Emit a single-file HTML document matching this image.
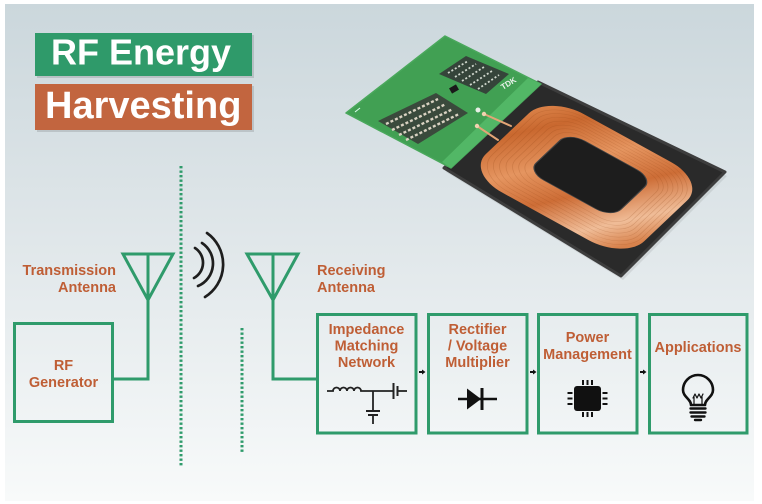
<!DOCTYPE html>
<html>
<head>
<meta charset="utf-8">
<style>
  html,body{margin:0;padding:0;background:#ffffff;}
  svg{display:block;}
  .lbl{font-family:"Liberation Sans",Arial,sans-serif;font-weight:bold;font-size:14.5px;fill:#bf5e35;}
  .ttl{font-family:"Liberation Sans",Arial,sans-serif;font-weight:bold;fill:#ffffff;}
</style>
</head>
<body>
<svg width="762" height="504" viewBox="0 0 762 504" xmlns="http://www.w3.org/2000/svg">
  <defs>
    <linearGradient id="bg" x1="0" y1="0" x2="0" y2="1">
      <stop offset="0" stop-color="#cbd7dc"/>
      <stop offset="0.45" stop-color="#dfe6e9"/>
      <stop offset="1" stop-color="#f8fafa"/>
    </linearGradient>
    <linearGradient id="cu" gradientUnits="userSpaceOnUse" x1="0" y1="10" x2="100" y2="60">
      <stop offset="0" stop-color="#e8965c"/>
      <stop offset="0.22" stop-color="#c9682f"/>
      <stop offset="0.45" stop-color="#e59560"/>
      <stop offset="0.65" stop-color="#cd6d36"/>
      <stop offset="0.86" stop-color="#f0bd98"/>
      <stop offset="1" stop-color="#d8824c"/>
    </linearGradient>
  </defs>

  <!-- background panel -->
  <rect x="0" y="0" width="762" height="504" fill="#ffffff"/>
  <rect x="5" y="4" width="749" height="497" fill="url(#bg)"/>

  <!-- Title -->
  <rect x="37" y="35" width="217" height="43" fill="#000" opacity="0.12"/>
  <rect x="35" y="33" width="217" height="43" fill="#2f9a6a"/>
  <text class="ttl" x="51" y="64.5" font-size="36">RF Energy</text>
  <rect x="37" y="86" width="217" height="46" fill="#000" opacity="0.12"/>
  <rect x="35" y="84" width="217" height="46" fill="#c2653f"/>
  <text class="ttl" x="45" y="118" font-size="38">Harvesting</text>

  <!-- Product photo approximation -->
  <polygon points="540,86 727,176 623,280 446,172" fill="#000" opacity="0.08"/>
  <polygon points="538,82 725,172 621,276 444,168" fill="#2a2a2a" stroke="#3d3d3d" stroke-width="3" stroke-linejoin="round"/>
  <g transform="matrix(1.8,0.99,-0.98,0.93,538,83)">
    <path fill-rule="evenodd" fill="url(#cu)" d="
      M28,4 H76 A20,20 0 0 1 96,24 V68 A20,20 0 0 1 76,88 H28 A20,20 0 0 1 8,68 V24 A20,20 0 0 1 28,4 Z
      M38,22 H67 A9,9 0 0 1 76,31 V55 A9,9 0 0 1 67,64 H38 A9,9 0 0 1 29,55 V31 A9,9 0 0 1 38,22 Z"/>
    <g fill="none" stroke="#8a3e12" stroke-opacity="0.22" stroke-width="0.35">
      <rect x="10.5" y="6.2" width="83.5" height="79" rx="19"/>
      <rect x="13" y="8.4" width="79" height="74" rx="17.5"/>
      <rect x="15.5" y="10.6" width="74.5" height="69" rx="16"/>
      <rect x="18" y="12.8" width="70" height="64" rx="15"/>
      <rect x="20.5" y="15" width="65.5" height="59" rx="14"/>
      <rect x="23" y="17.2" width="61" height="54" rx="12.5"/>
      <rect x="25.5" y="19.4" width="56.5" height="49" rx="11"/>
    </g>
    <rect x="29" y="22" width="47" height="42" rx="9" fill="#1d1d1d" stroke="#444" stroke-width="0.6"/>
  </g>
  <!-- PCB -->
  <polygon points="346,113 445,36 541,84 451,168" fill="#41a053" stroke="#4aa85c" stroke-width="1.5" stroke-linejoin="round"/>
  <polygon points="528,78 541,84 451,168 442,162" fill="#52b766"/>
  <polygon points="378,121 436,93 468,113 418,144" fill="#3a4a3c"/>
  <g stroke="#d9d2c2" stroke-width="2.4" stroke-dasharray="3 2">
    <line x1="386" y1="124" x2="438" y2="99"/>
    <line x1="392" y1="130" x2="446" y2="104"/>
    <line x1="399" y1="135" x2="453" y2="109"/>
    <line x1="406" y1="140" x2="459" y2="114"/>
  </g>
  <polygon points="439,74 466,56 509,74 486,94" fill="#35443a"/>
  <g stroke="#cfd6cc" stroke-width="1.8" stroke-dasharray="2 2">
    <line x1="448" y1="73" x2="468" y2="61"/>
    <line x1="455" y1="77" x2="476" y2="64"/>
    <line x1="462" y1="81" x2="484" y2="67"/>
    <line x1="470" y1="85" x2="492" y2="71"/>
    <line x1="478" y1="89" x2="499" y2="75"/>
  </g>
  <rect x="450" y="86" width="8" height="6" fill="#1a1a1a" transform="rotate(-30 454 89)"/>
  <circle cx="478" cy="110" r="2.5" fill="#e8efe6"/>
  <text x="503" y="90" transform="rotate(-32 503 90)" font-family="Liberation Sans, Arial, sans-serif" font-weight="bold" font-size="8" fill="#e9f2ea">TDK</text>
  <line x1="355" y1="112" x2="360" y2="108" stroke="#dfe" stroke-width="1"/>
  <g stroke="#e3a576" stroke-width="2" stroke-linecap="round">
    <line x1="484" y1="114" x2="511" y2="126"/>
    <line x1="477" y1="126" x2="498" y2="140"/>
  </g>
  <circle cx="484" cy="114" r="2.2" fill="#f0d2b0"/>
  <circle cx="477" cy="126" r="2.2" fill="#f0d2b0"/>

  <!-- Dotted separators -->
  <line x1="181" y1="166" x2="181" y2="467" stroke="#2f9b6b" stroke-width="3" stroke-dasharray="2.4 2.1"/>
  <line x1="242" y1="328" x2="242" y2="453" stroke="#2f9b6b" stroke-width="3" stroke-dasharray="2.4 2.1"/>

  <!-- Transmission antenna -->
  <polygon points="123,254 173,254 148,300" fill="none" stroke="#2f9b6b" stroke-width="3"/>
  <polyline points="148,254 148,379 113,379" fill="none" stroke="#2f9b6b" stroke-width="3"/>
  <text class="lbl" x="116" y="275" text-anchor="end">Transmission</text>
  <text class="lbl" x="116" y="292" text-anchor="end">Antenna</text>

  <!-- RF Generator -->
  <rect x="14.5" y="323.5" width="98" height="98" fill="none" stroke="#2f9b6b" stroke-width="3"/>
  <text class="lbl" x="63.5" y="370" text-anchor="middle">RF</text>
  <text class="lbl" x="63.5" y="387" text-anchor="middle">Generator</text>

  <!-- Waves -->
  <g fill="none" stroke="#1e1e1e" stroke-width="2.7" stroke-linecap="round">
    <path d="M195,248 A17.5,17.5 0 0 1 194,278"/>
    <path d="M202,243 A24.5,24.5 0 0 1 198,286"/>
    <path d="M207,233 A38.5,38.5 0 0 1 205,297"/>
  </g>

  <!-- Receiving antenna -->
  <polygon points="247,254 298,254 273,300" fill="none" stroke="#2f9b6b" stroke-width="3"/>
  <polyline points="273,254 273,379 317,379" fill="none" stroke="#2f9b6b" stroke-width="3"/>
  <text class="lbl" x="317" y="275">Receiving</text>
  <text class="lbl" x="317" y="292">Antenna</text>

  <!-- Blocks -->
  <g fill="none" stroke="#2f9b6b" stroke-width="3">
    <rect x="317.5" y="314.5" width="98.5" height="118.5"/>
    <rect x="428.5" y="314.5" width="98.5" height="118.5"/>
    <rect x="538.5" y="314.5" width="98.5" height="118.5"/>
    <rect x="649.5" y="314.5" width="97.5" height="118.5"/>
  </g>

  <!-- arrows -->
  <g fill="#111" stroke="#111">
    <line x1="419" y1="372" x2="423" y2="372" stroke-width="2"/>
    <polygon points="422,369.5 425.5,372 422,374.5" stroke="none"/>
    <line x1="530" y1="372" x2="534" y2="372" stroke-width="2"/>
    <polygon points="533,369.5 536.5,372 533,374.5" stroke="none"/>
    <line x1="640" y1="372" x2="644" y2="372" stroke-width="2"/>
    <polygon points="643,369.5 646.5,372 643,374.5" stroke="none"/>
  </g>

  <!-- Block texts -->
  <text class="lbl" x="366.5" y="334" text-anchor="middle">Impedance</text>
  <text class="lbl" x="366.5" y="350.5" text-anchor="middle">Matching</text>
  <text class="lbl" x="366.5" y="367" text-anchor="middle">Network</text>

  <text class="lbl" x="477.5" y="334" text-anchor="middle">Rectifier</text>
  <text class="lbl" x="477.5" y="350.5" text-anchor="middle">/ Voltage</text>
  <text class="lbl" x="477.5" y="367" text-anchor="middle">Multiplier</text>

  <text class="lbl" x="587.5" y="342" text-anchor="middle">Power</text>
  <text class="lbl" x="587.5" y="359" text-anchor="middle">Management</text>

  <text class="lbl" x="698" y="352" text-anchor="middle">Applications</text>

  <!-- Impedance matching circuit -->
  <g fill="none" stroke="#222" stroke-width="1.8" stroke-linecap="butt">
    <path d="M327,391 L333,391 a3.5,3.5 0 0 1 7,0 a3.5,3.5 0 0 1 7,0 a3.5,3.5 0 0 1 7,0 a3.5,3.5 0 0 1 7,0 L393,391"/>
    <line x1="393.5" y1="383" x2="393.5" y2="399" stroke-width="2"/>
    <line x1="397.5" y1="386" x2="397.5" y2="396" stroke-width="2"/>
    <line x1="397.5" y1="391" x2="407" y2="391"/>
    <line x1="373" y1="391" x2="373" y2="411"/>
    <line x1="366" y1="411" x2="380" y2="411" stroke-width="2"/>
    <line x1="368" y1="415" x2="378" y2="415" stroke-width="2"/>
    <line x1="373" y1="415" x2="373" y2="424"/>
  </g>

  <!-- Diode -->
  <line x1="458" y1="399" x2="497" y2="399" stroke="#111" stroke-width="2.6"/>
  <polygon points="467,388.5 467,409.5 481,399" fill="#111"/>
  <line x1="482" y1="388" x2="482" y2="410" stroke="#111" stroke-width="3"/>

  <!-- Chip -->
  <g fill="#111">
    <rect x="574" y="386" width="27" height="25" rx="3"/>
    <rect x="582" y="380" width="2" height="5"/>
    <rect x="586.5" y="380" width="2" height="5"/>
    <rect x="591" y="380" width="2" height="5"/>
    <rect x="582" y="412" width="2" height="5"/>
    <rect x="586.5" y="412" width="2" height="5"/>
    <rect x="591" y="412" width="2" height="5"/>
    <rect x="567.5" y="392" width="5" height="2"/>
    <rect x="567.5" y="397.5" width="5" height="2"/>
    <rect x="567.5" y="403" width="5" height="2"/>
    <rect x="602.5" y="392" width="5" height="2"/>
    <rect x="602.5" y="397.5" width="5" height="2"/>
    <rect x="602.5" y="403" width="5" height="2"/>
  </g>

  <!-- Bulb -->
  <g fill="none" stroke="#111" stroke-linecap="round" stroke-linejoin="round">
    <path d="M691,405 C691,399 683,397 683,390 A15,15 0 1 1 713,390 C713,397 705,399 705,405 Z" stroke-width="2.6"/>
    <line x1="690.5" y1="408.5" x2="705.5" y2="408.5" stroke-width="2.4"/>
    <line x1="690.5" y1="412.5" x2="705.5" y2="412.5" stroke-width="2.4"/>
    <line x1="691.5" y1="416.5" x2="704.5" y2="416.5" stroke-width="2.4"/>
    <line x1="695" y1="420" x2="701" y2="420" stroke-width="2.4"/>
    <polyline points="693,398 695,394 697,398 699,394 701,398 703,394" stroke-width="1.2"/>
    <line x1="694" y1="404" x2="694" y2="397" stroke-width="1.2"/>
    <line x1="702" y1="404" x2="702" y2="397" stroke-width="1.2"/>
  </g>
</svg>
</body>
</html>
